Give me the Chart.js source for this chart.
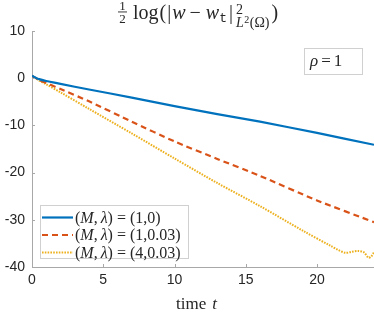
<!DOCTYPE html>
<html>
<head>
<meta charset="utf-8">
<script src="https://cdn.jsdelivr.net/npm/chart.js@4/dist/chart.umd.min.js"></script>
<style>html,body{margin:0;padding:0;background:#fff;}</style>
</head>
<body>
<canvas id="chart" width="374" height="312"></canvas>
<script>
// time grids
const timeA = [0, 0.5, 1, 2, 4, 7, 10, 13, 16, 20, 24];
const timeB = [0, 0.5, 1, 2, 4, 7, 10, 13, 16, 19, 21, 21.5, 22, 22.4, 22.9, 23.3, 23.6, 23.8, 24];

// (1/2) log of the error, one array per run
const errM1L0 = [0.5, -0.2, -0.6, -1.2, -2.4, -4.1, -5.9, -7.6, -9.2, -11.6, -14.1];
const errM1L003 = [0.5, -0.4, -1.0, -2.3, -4.9, -9.2, -13.4, -17.1, -20.7, -25.9, -30.5];
const errM4L003 = [0.5, -0.5, -1.3, -3.0, -6.5, -11.7, -17.0, -22.2, -27.1, -32.3, -35.6, -36.4, -37.0, -36.8, -36.6, -36.9, -38.0, -37.8, -36.9];

const paramM = ['1', '1', '4'];
const paramLambda = ['0', '0.03', '0.03'];

const xTicks = [0, 5, 10, 15, 20];
const yTicks = [10, 0, -10, -20, -30, -40];

const axisColor = '#a8a8a8';
const textColor = '#262626';
const serif = '"Liberation Serif", "DejaVu Serif", serif';

const pts = (ts, vs) => ts.map((t, i) => ({ x: t, y: vs[i] }));

// draw a run of text pieces, returns end x
function rich(ctx, parts, x, y, measureOnly) {
  for (const p of parts) {
    ctx.font = p.f;
    x += p.pre || 0;
    if (!measureOnly) ctx.fillText(p.t, x, y + (p.dy || 0));
    x += ctx.measureText(p.t).width + (p.gap || 0);
  }
  return x;
}

function drawTitle(ctx, x, y) {
  const big = '20px ' + serif, bigI = 'italic 20px ' + serif;
  const small = '14px ' + serif, smallI = 'italic 14px ' + serif, tiny = '10px ' + serif;
  // 1/2 fraction
  ctx.textAlign = 'center';
  ctx.font = '13px ' + serif;
  ctx.fillText('1', x + 4.5, y - 9);
  ctx.fillText('2', x + 4.5, y + 3.5);
  ctx.fillRect(x, y - 7.5, 9, 0.9);
  ctx.textAlign = 'left';
  x += 15;
  x = rich(ctx, [
    { t: 'log', f: big, gap: 1 },
    { t: '(', f: big, gap: 1 },
    { t: '|', f: big, gap: 1 },
    { t: 'w', f: bigI, gap: 4 },
    { t: '\u2212', f: big, gap: 5 },
    { t: 'w', f: bigI },
    { t: 't', f: '13px "Liberation Mono", monospace', dy: 3, gap: 2 },
    { t: '|', f: big, gap: 3 }
  ], x, y);
  rich(ctx, [{ t: '2', f: small }], x, y - 5);
  x = rich(ctx, [
    { t: 'L', f: smallI, gap: 0.5 },
    { t: '2', f: tiny, dy: -4, gap: 0.5 },
    { t: '(\u03A9)', f: small }
  ], x, y + 8);
  ctx.font = big;
  ctx.fillText(')', x + 2, y);
}

const decor = {
  id: 'decor',
  afterDraw(chart) {
    const ctx = chart.ctx, a = chart.chartArea;
    const xs = chart.scales.x, ys = chart.scales.y;
    ctx.save();
    // inward ticks
    ctx.strokeStyle = axisColor;
    ctx.lineWidth = 1;
    ctx.beginPath();
    xTicks.forEach(v => {
      const px = Math.round(xs.getPixelForValue(v)) + 0.5;
      ctx.moveTo(px, a.bottom); ctx.lineTo(px, a.bottom - 3);
    });
    yTicks.forEach(v => {
      const py = Math.round(ys.getPixelForValue(v)) + 0.5;
      ctx.moveTo(a.left, py); ctx.lineTo(a.left + 3, py);
    });
    ctx.stroke();

    ctx.fillStyle = textColor;
    ctx.textBaseline = 'alphabetic';
    drawTitle(ctx, 118, 19);

    // rho box
    ctx.fillStyle = '#fff';
    ctx.fillRect(304.5, 48.5, 58, 26);
    ctx.strokeStyle = '#d0d0d0';
    ctx.strokeRect(304.5, 48.5, 58, 26);
    ctx.fillStyle = textColor;
    rich(ctx, [
      { t: '\u03C1', f: 'italic 17px ' + serif, gap: 3 },
      { t: '=', f: '17px ' + serif, gap: 3 },
      { t: '1', f: '17px ' + serif }
    ], 310, 66);

    // legend
    ctx.fillStyle = '#fff';
    ctx.fillRect(40.5, 205.5, 148, 53);
    ctx.strokeStyle = '#d0d0d0';
    ctx.strokeRect(40.5, 205.5, 148, 53);
    chart.data.datasets.forEach((ds, i) => {
      const y = 217.5 + i * 17.5;
      ctx.save();
      ctx.strokeStyle = ds.borderColor;
      ctx.lineWidth = ds.borderWidth;
      ctx.setLineDash(ds.borderDash || []);
      ctx.beginPath();
      ctx.moveTo(42, y); ctx.lineTo(73, y);
      ctx.stroke();
      ctx.restore();
      ctx.fillStyle = textColor;
      const f = '16px ' + serif, fi = 'italic 16px ' + serif;
      rich(ctx, [
        { t: '(', f: f },
        { t: 'M', f: fi },
        { t: ',', f: f, gap: 3 },
        { t: '\u03BB', f: fi },
        { t: ')', f: f, gap: 4 },
        { t: '=', f: f, gap: 4 },
        { t: '(' + paramM[i] + ',' + paramLambda[i] + ')', f: f }
      ], 75, y + 5);
    });

    // x axis title
    rich(ctx, [
      { t: 'time', f: '17px ' + serif, gap: 6 },
      { t: 't', f: 'italic 17px ' + serif }
    ], 176, 309);
    ctx.restore();
  }
};

new Chart(document.getElementById('chart'), {
  type: 'line',
  data: {
    datasets: [
      {
        data: pts(timeA, errM1L0),
        borderColor: '#0072BD',
        borderWidth: 2.2,
        pointRadius: 0,
        tension: 0.2
      },
      {
        data: pts(timeA, errM1L003),
        borderColor: '#D95319',
        borderWidth: 2.2,
        borderDash: [6, 4],
        pointRadius: 0,
        tension: 0.2
      },
      {
        data: pts(timeB, errM4L003),
        borderColor: '#EDB120',
        borderWidth: 2,
        borderDash: [1.6, 1.2],
        pointRadius: 0,
        tension: 0.3
      }
    ]
  },
  options: {
    responsive: false,
    animation: false,
    layout: { padding: { top: 31, right: 0, left: 0, bottom: 0 } },
    plugins: {
      legend: { display: false },
      tooltip: { enabled: false }
    },
    scales: {
      x: {
        type: 'linear',
        min: 0,
        max: 24,
        afterBuildTicks: s => { s.ticks = xTicks.map(v => ({ value: v })); },
        afterFit: s => { s.height = 45; },
        grid: { display: false, drawTicks: false },
        border: { color: axisColor, width: 1 },
        ticks: {
          color: textColor,
          padding: 5,
          maxRotation: 0,
          font: { family: '"Liberation Sans", Arial, sans-serif', size: 14 }
        }
      },
      y: {
        min: -40,
        max: 10,
        afterBuildTicks: s => { s.ticks = yTicks.map(v => ({ value: v })); },
        afterFit: s => { s.width = 32; },
        grid: { display: false, drawTicks: false },
        border: { color: axisColor, width: 1 },
        ticks: {
          color: textColor,
          padding: 7,
          font: { family: '"Liberation Sans", Arial, sans-serif', size: 14 }
        }
      }
    }
  },
  plugins: [decor]
});
</script>
</body>
</html>
